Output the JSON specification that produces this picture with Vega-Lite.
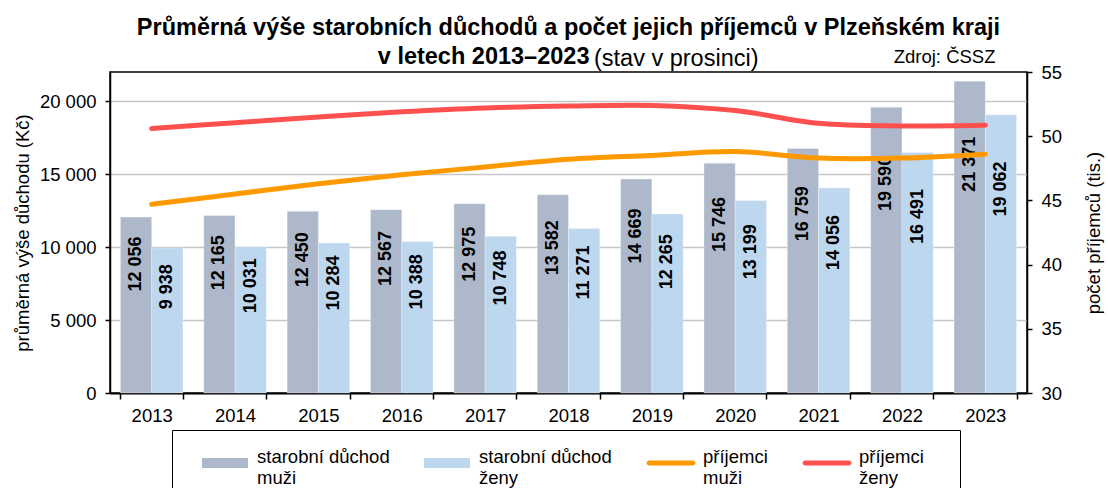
{
  "$schema": "https://vega.github.io/schema/vega-lite/v6.json",
  "width": 917,
  "height": 321,
  "autosize": {"type": "none"},
  "padding": {"left": 110, "top": 72, "right": 81, "bottom": 95},
  "background": "white",
  "config": {
    "font": "Liberation Sans",
    "locale": {"number": {"decimal": ",", "thousands": " ", "grouping": [3], "currency": ["", " Kč"]}},
    "view": {"stroke": "#000", "strokeWidth": 1.5},
    "axis": {"labelFont": "Liberation Sans", "titleFont": "Liberation Sans", "labelColor": "#000", "titleColor": "#000", "labelFontSize": 18.5, "titleFontSize": 18.5, "titleFontWeight": "normal", "domainColor": "#000", "tickColor": "#000", "domainWidth": 1.5, "tickWidth": 1.5},
    "legend": {
      "orient": "none",
      "legendX": 62,
      "legendY": 358,
      "direction": "horizontal",
      "columns": 4,
      "titleOrient": "left",
      "titleFontSize": 10,
      "titlePadding": 20,
      "padding": 10,
      "fillColor": "white",
      "strokeColor": "#000",
      "columnPadding": 34,
      "labelFont": "Liberation Sans",
      "labelFontSize": 18.5,
      "labelColor": "#000",
      "labelLimit": 400,
      "labelOffset": 9,
      "labelBaseline": "alphabetic",
      "symbolSize": 2116,
      "symbolOpacity": 1,
      "symbolStrokeWidth": 0
    }
  },
  "title": {
    "text": ["Průměrná výše starobních důchodů a počet jejich příjemců v Plzeňském kraji", "v letech 2013–2023\u00a0\u00a0\u00a0\u00a0\u00a0\u00a0\u00a0\u00a0\u00a0\u00a0\u00a0\u00a0\u00a0\u00a0\u00a0\u00a0\u00a0\u00a0\u00a0\u00a0\u00a0\u00a0\u00a0\u00a0\u00a0\u00a0\u2060"],
    "subtitle": "\u2060\u00a0\u00a0\u00a0\u00a0\u00a0\u00a0\u00a0\u00a0\u00a0\u00a0\u00a0\u00a0\u00a0\u00a0\u00a0\u00a0\u00a0\u00a0\u00a0\u00a0\u00a0\u00a0\u00a0\u00a0\u00a0\u00a0\u00a0\u00a0\u00a0\u00a0\u00a0\u00a0\u00a0(stav v prosinci)",
    "anchor": "middle",
    "frame": "group",
    "font": "Liberation Sans",
    "fontSize": 23.5,
    "fontWeight": "bold",
    "color": "#000",
    "lineHeight": 29,
    "subtitleFont": "Liberation Sans",
    "subtitleFontSize": 23.5,
    "subtitleFontWeight": "normal",
    "subtitleColor": "#000",
    "subtitlePadding": -22,
    "offset": 4,
    "dy": 27
  },
  "datasets": {
    "duchody": [
      {"rok": "2013", "serie": "starobní důchod|muži", "duchod": 12056},
      {"rok": "2013", "serie": "starobní důchod|ženy", "duchod": 9938},
      {"rok": "2014", "serie": "starobní důchod|muži", "duchod": 12165},
      {"rok": "2014", "serie": "starobní důchod|ženy", "duchod": 10031},
      {"rok": "2015", "serie": "starobní důchod|muži", "duchod": 12450},
      {"rok": "2015", "serie": "starobní důchod|ženy", "duchod": 10284},
      {"rok": "2016", "serie": "starobní důchod|muži", "duchod": 12567},
      {"rok": "2016", "serie": "starobní důchod|ženy", "duchod": 10388},
      {"rok": "2017", "serie": "starobní důchod|muži", "duchod": 12975},
      {"rok": "2017", "serie": "starobní důchod|ženy", "duchod": 10748},
      {"rok": "2018", "serie": "starobní důchod|muži", "duchod": 13582},
      {"rok": "2018", "serie": "starobní důchod|ženy", "duchod": 11271},
      {"rok": "2019", "serie": "starobní důchod|muži", "duchod": 14669},
      {"rok": "2019", "serie": "starobní důchod|ženy", "duchod": 12265},
      {"rok": "2020", "serie": "starobní důchod|muži", "duchod": 15746},
      {"rok": "2020", "serie": "starobní důchod|ženy", "duchod": 13199},
      {"rok": "2021", "serie": "starobní důchod|muži", "duchod": 16759},
      {"rok": "2021", "serie": "starobní důchod|ženy", "duchod": 14056},
      {"rok": "2022", "serie": "starobní důchod|muži", "duchod": 19590},
      {"rok": "2022", "serie": "starobní důchod|ženy", "duchod": 16491},
      {"rok": "2023", "serie": "starobní důchod|muži", "duchod": 21371},
      {"rok": "2023", "serie": "starobní důchod|ženy", "duchod": 19062}
    ],
    "prijemci": [
      {"rok": "2013", "serie": "příjemci|muži", "pocet": 44.7},
      {"rok": "2014", "serie": "příjemci|muži", "pocet": 45.5},
      {"rok": "2015", "serie": "příjemci|muži", "pocet": 46.3},
      {"rok": "2016", "serie": "příjemci|muži", "pocet": 47.0},
      {"rok": "2017", "serie": "příjemci|muži", "pocet": 47.6},
      {"rok": "2018", "serie": "příjemci|muži", "pocet": 48.2},
      {"rok": "2019", "serie": "příjemci|muži", "pocet": 48.5},
      {"rok": "2020", "serie": "příjemci|muži", "pocet": 48.8},
      {"rok": "2021", "serie": "příjemci|muži", "pocet": 48.3},
      {"rok": "2022", "serie": "příjemci|muži", "pocet": 48.3},
      {"rok": "2023", "serie": "příjemci|muži", "pocet": 48.6},
      {"rok": "2013", "serie": "příjemci|ženy", "pocet": 50.6},
      {"rok": "2014", "serie": "příjemci|ženy", "pocet": 51.05},
      {"rok": "2015", "serie": "příjemci|ženy", "pocet": 51.5},
      {"rok": "2016", "serie": "příjemci|ženy", "pocet": 51.9},
      {"rok": "2017", "serie": "příjemci|ženy", "pocet": 52.2},
      {"rok": "2018", "serie": "příjemci|ženy", "pocet": 52.35},
      {"rok": "2019", "serie": "příjemci|ženy", "pocet": 52.4},
      {"rok": "2020", "serie": "příjemci|ženy", "pocet": 52.0},
      {"rok": "2021", "serie": "příjemci|ženy", "pocet": 51.0},
      {"rok": "2022", "serie": "příjemci|ženy", "pocet": 50.8},
      {"rok": "2023", "serie": "příjemci|ženy", "pocet": 50.85}
    ]
  },
  "layer": [
    {
      "data": {"name": "prijemci"},
      "mark": {"type": "point", "filled": true, "opacity": 0},
      "encoding": {
        "x": {"field": "rok", "type": "nominal", "axis": null, "scale": {"paddingInner": 0.25, "paddingOuter": 0.125}},
        "y": {"field": "pocet", "type": "quantitative", "scale": {"domain": [30, 55], "nice": false, "zero": false}, "axis": null},
        "shape": {
          "field": "serie", "type": "nominal",
          "scale": {"domain": ["starobní důchod|muži", "starobní důchod|ženy", "příjemci|muži", "příjemci|ženy"], "range": ["M-1,-0.2174H1V0.2174H-1Z", "M-1,-0.2174H1V0.2174H-1Z", "M-0.95,-0.11H0.95A0.11,0.11 0 0 1 0.95,0.11H-0.95A0.11,0.11 0 0 1 -0.95,-0.11Z", "M-0.95,-0.11H0.95A0.11,0.11 0 0 1 0.95,0.11H-0.95A0.11,0.11 0 0 1 -0.95,-0.11Z"]},
          "legend": {"title": " ", "labelExpr": "datum.value == 'příjemci|ženy' ? ['příjemci\u00a0\u00a0\u00a0\u00a0\u00a0\u2060', 'ženy'] : split(datum.label, '|')", "encode": {"legend": {"strokeWidth": {"value": 1.5}}, "labels": {"dy": {"value": 9}, "lineHeight": {"value": 21}}}}
        },
        "color": {
          "field": "serie", "type": "nominal",
          "scale": {"domain": ["starobní důchod|muži", "starobní důchod|ženy", "příjemci|muži", "příjemci|ženy"], "range": ["#adb9ca", "#bdd7ee", "#ff9900", "#ff5050"]},
          "legend": {"title": " ", "labelExpr": "datum.value == 'příjemci|ženy' ? ['příjemci\u00a0\u00a0\u00a0\u00a0\u00a0\u2060', 'ženy'] : split(datum.label, '|')", "encode": {"legend": {"strokeWidth": {"value": 1.5}}, "labels": {"dy": {"value": 9}, "lineHeight": {"value": 21}}}}
        }
      }
    },
    {
      "data": {"name": "duchody"},
      "mark": {"type": "bar", "stroke": "#ffffff", "strokeWidth": 0.5, "strokeOpacity": 0.6},
      "encoding": {
        "x": {
          "field": "rok", "type": "nominal",
          "scale": {"paddingInner": 0.25, "paddingOuter": 0.125},
          "axis": {"orient": "bottom", "title": null, "labelAngle": 0, "tickBand": "extent", "tickSize": 6, "labelPadding": 7, "domainWidth": 2}
        },
        "xOffset": {"field": "serie", "type": "nominal", "scale": {"domain": ["starobní důchod|muži", "starobní důchod|ženy"], "paddingInner": 0}},
        "y": {
          "field": "duchod", "type": "quantitative",
          "scale": {"domain": [0, 22000], "nice": false},
          "axis": {"orient": "left", "title": "průměrná výše důchodu (Kč)", "values": [0, 5000, 10000, 15000, 20000], "format": ",d", "tickSize": 5, "labelPadding": 9, "titlePadding": 7, "grid": true, "gridColor": "#c6c6c6", "gridWidth": 1.5}
        },
        "color": {"field": "serie", "type": "nominal"}
      }
    },
    {
      "data": {"name": "duchody"},
      "mark": {"type": "text", "angle": 270, "align": "center", "baseline": "middle", "font": "Liberation Sans", "fontSize": 18, "fontWeight": "bold", "color": "#000"},
      "encoding": {
        "x": {"field": "rok", "type": "nominal", "axis": null},
        "xOffset": {"field": "serie", "type": "nominal", "scale": {"domain": ["starobní důchod|muži", "starobní důchod|ženy"], "paddingInner": 0}},
        "y": {"field": "duchod", "type": "quantitative", "scale": {"domain": [0, 30000], "nice": false}, "axis": null},
        "text": {"field": "duchod", "type": "quantitative", "format": ",d"}
      }
    },
    {
      "data": {"name": "prijemci"},
      "mark": {"type": "line", "strokeWidth": 5, "strokeCap": "round", "interpolate": "catmull-rom"},
      "encoding": {
        "x": {"field": "rok", "type": "nominal", "axis": {"orient": "top", "title": "Zdroj: ČSSZ", "labels": false, "ticks": false, "domain": false, "titleAnchor": "end", "titleAlign": "right", "titleX": 885, "titleY": -10, "titleBaseline": "alphabetic", "titleFontSize": 18.5}},
        "y": {
          "field": "pocet", "type": "quantitative",
          "scale": {"domain": [30, 55], "nice": false, "zero": false},
          "axis": {"orient": "right", "title": "počet příjemců (tis.)", "values": [30, 35, 40, 45, 50, 55], "tickSize": 5, "labelPadding": 9, "titleAngle": 270, "titlePadding": 42, "grid": false}
        },
        "color": {"field": "serie", "type": "nominal"}
      }
    }
  ],
  "resolve": {"scale": {"y": "independent"}, "axis": {"x": "independent"}}
}
